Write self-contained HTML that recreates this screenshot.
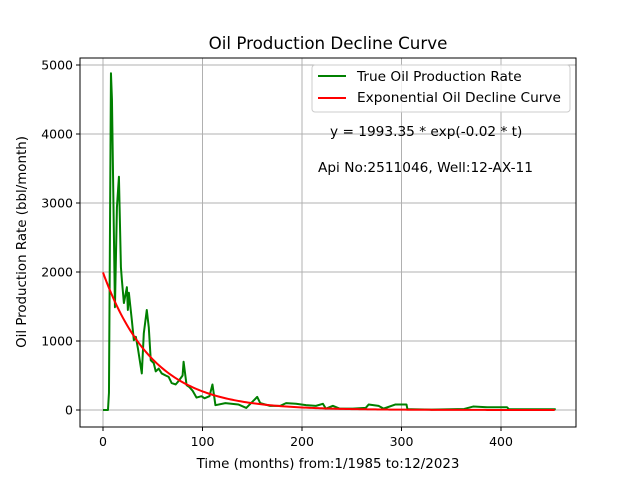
<!DOCTYPE html>
<html><head><meta charset="utf-8"><style>
body{margin:0;background:#fff;font-family:"Liberation Sans","DejaVu Sans",sans-serif}
svg text{font-family:"DejaVu Sans","Liberation Sans",sans-serif;fill:#000}
</style></head><body>
<svg id="chart" width="640" height="480" xmlns="http://www.w3.org/2000/svg">
<rect width="640" height="480" fill="#fff"/>
<g id="grid"></g>
<g id="series"></g>
<rect x="80" y="58" width="496" height="369" fill="none" stroke="#000" stroke-width="1"/>
<g id="ticks"></g>
<text x="328" y="49" font-size="16.7" text-anchor="middle">Oil Production Decline Curve</text>
<text x="328" y="468" font-size="13.4" text-anchor="middle">Time (months) from:1/1985 to:12/2023</text>
<text transform="translate(26,242) rotate(-90)" font-size="13.4" text-anchor="middle">Oil Production Rate (bbl/month)</text>
<g>
<rect x="312" y="65" width="258" height="47" rx="3" fill="#fff" fill-opacity="0.8" stroke="#ccc"/>
<line x1="318" y1="76" x2="346" y2="76" stroke="#008000" stroke-width="2"/>
<text x="357" y="81" font-size="13.7">True Oil Production Rate</text>
<line x1="318" y1="98" x2="346" y2="98" stroke="#ff0000" stroke-width="2"/>
<text x="357" y="102" font-size="13.7">Exponential Oil Decline Curve</text>
</g>
<text x="330" y="136" font-size="13.7">y = 1993.35 * exp(-0.02 * t)</text>
<text x="318" y="172" font-size="13.7">Api No:2511046, Well:12-AX-11</text>
</svg>
<script>
const months=[0,5,6,8,9,12,14,16,18,19,21,24,25,26,29,31,33,35,39,41,44,46,48,51,53,56,59,63,66,69,73,76,80,81,84,87,90,94,99,102,107,110,113,123,136,144,155,158,168,178,184,194,204,214,221,224,231,238,251,264,267,277,282,294,305,306,310,330,363,372,386,406,408,430,455];
const rates=[0,0,250,4880,4500,1490,2940,3380,2070,1880,1550,1780,1450,1700,1300,1010,1060,900,530,1110,1450,1200,720,680,560,600,530,500,480,390,370,420,500,700,360,330,280,180,200,170,200,370,70,100,80,30,190,100,60,60,100,90,70,60,90,20,60,20,20,30,80,60,20,80,80,10,10,5,15,50,40,40,10,10,10];
const expA=1993.35, expK=0.02, tMax=455;
const xTicks=[0,100,200,300,400];
const yTicks=[0,1000,2000,3000,4000,5000];
const X=v=>103+v*0.995, Y=v=>410-v*0.069;
const ns="http://www.w3.org/2000/svg";
const grid=document.getElementById('grid'),ticks=document.getElementById('ticks'),ser=document.getElementById('series');
function mk(tag,attrs,parent){const e=document.createElementNS(ns,tag);for(const k in attrs)e.setAttribute(k,attrs[k]);parent.appendChild(e);return e;}
xTicks.forEach(t=>{
 const g=mk('line',{x1:X(t),x2:X(t),y1:58,y2:427,stroke:'#b0b0b0','stroke-width':1},grid);
 
 
 mk('line',{x1:X(t),x2:X(t),y1:427,y2:431,stroke:'#000'},ticks);
 const tx=mk('text',{x:X(t),y:446,'font-size':12.5,'text-anchor':'middle'},ticks);tx.textContent=t;
 
 
});
yTicks.forEach(t=>{
 const g=mk('line',{x1:80,x2:576,y1:Y(t),y2:Y(t),stroke:'#b0b0b0','stroke-width':1},grid);
 
 
 mk('line',{x1:76,x2:80,y1:Y(t),y2:Y(t),stroke:'#000'},ticks);
 const tx=mk('text',{x:73,y:Y(t)+4.5,'font-size':12.5,'text-anchor':'end'},ticks);tx.textContent=t;
 
 
});
const p1=mk('polyline',{points:months.map((m,i)=>X(m)+','+Y(rates[i])).join(' '),fill:'none',stroke:'#008000','stroke-width':2,'stroke-linejoin':'round'},ser);


const pts=[];for(let t=0;t<=tMax;t+=2)pts.push(X(t)+','+Y(expA*Math.exp(-expK*t)));
const p2=mk('polyline',{points:pts.join(' '),fill:'none',stroke:'#ff0000','stroke-width':2},ser);


</script>
</body></html>
